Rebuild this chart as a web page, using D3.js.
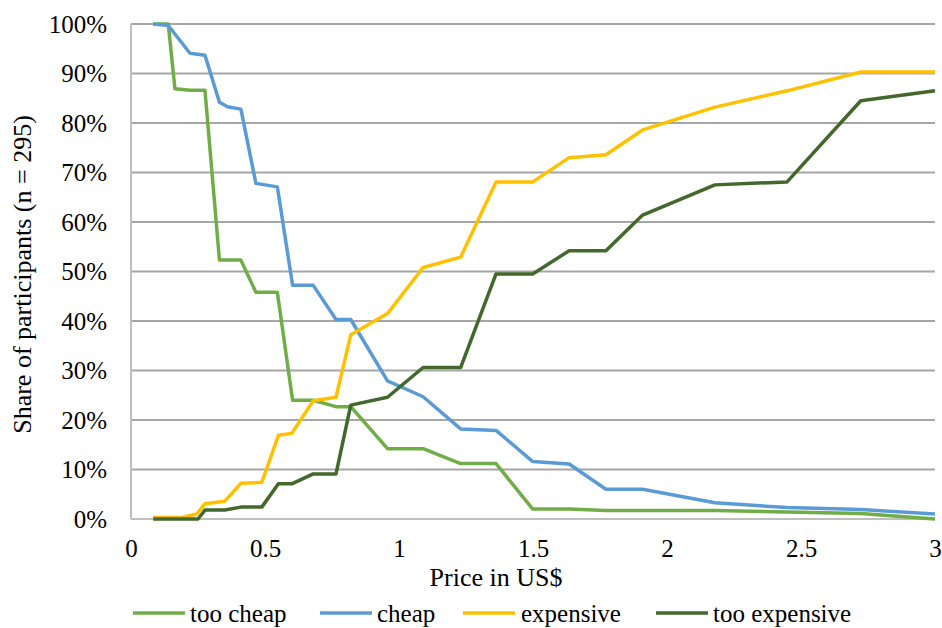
<!DOCTYPE html>
<html>
<head>
<meta charset="utf-8">
<script src="https://cdn.jsdelivr.net/npm/d3@7"></script>
<style>
  html, body { margin: 0; padding: 0; background: #ffffff; }
  svg { display: block; }
  svg text { font-family: 'Liberation Serif', Tinos, 'Times New Roman', Times, 'DejaVu Serif', serif !important; fill: #000; }
</style>
</head>
<body>
<svg id="chart" width="942" height="628"></svg>
<script>
// ---- data ----
const seriesNames = ["too cheap", "cheap", "expensive", "too expensive"];
const seriesColors = ["#70AD47", "#5B9BD5", "#FFC000", "#43682B"];

const tooCheap = [
  [0.083, 100], [0.139, 100], [0.164, 86.9], [0.22, 86.6], [0.276, 86.6],
  [0.33, 52.3], [0.41, 52.3], [0.466, 45.8], [0.546, 45.8], [0.603, 24.0],
  [0.68, 24.0], [0.765, 22.7], [0.82, 22.7], [0.957, 14.2], [1.09, 14.2],
  [1.23, 11.2], [1.362, 11.2], [1.499, 2.0], [1.635, 2.0], [1.772, 1.7],
  [2.179, 1.7], [2.448, 1.4], [2.723, 1.1], [3.0, 0.0]
];
const cheap = [
  [0.083, 100], [0.139, 99.7], [0.22, 94.1], [0.276, 93.7], [0.33, 84.2],
  [0.36, 83.3], [0.41, 82.8], [0.466, 67.8], [0.546, 67.1], [0.603, 47.2],
  [0.68, 47.2], [0.765, 40.3], [0.82, 40.3], [0.957, 27.9], [1.09, 24.7],
  [1.23, 18.2], [1.362, 17.9], [1.499, 11.6], [1.635, 11.1], [1.772, 6.0],
  [1.909, 6.0], [2.179, 3.3], [2.448, 2.3], [2.723, 1.9], [3.0, 1.0]
];
const expensive = [
  [0.083, 0.3], [0.19, 0.3], [0.245, 1.0], [0.276, 3.1], [0.35, 3.6],
  [0.41, 7.2], [0.488, 7.4], [0.55, 16.9], [0.6, 17.3], [0.68, 23.9],
  [0.765, 24.6], [0.82, 37.2], [0.957, 41.5], [1.09, 50.8], [1.23, 52.9],
  [1.362, 68.1], [1.499, 68.1], [1.635, 73.0], [1.772, 73.6], [1.909, 78.6],
  [2.179, 83.2], [2.448, 86.5], [2.723, 90.3], [3.0, 90.3]
];
const tooExpensive = [
  [0.083, 0.0], [0.25, 0.0], [0.276, 1.8], [0.35, 1.8], [0.41, 2.4],
  [0.488, 2.4], [0.55, 7.1], [0.6, 7.1], [0.68, 9.1], [0.765, 9.1],
  [0.82, 23.0], [0.957, 24.6], [1.09, 30.6], [1.23, 30.6], [1.362, 49.5],
  [1.499, 49.5], [1.635, 54.2], [1.772, 54.2], [1.909, 61.4], [2.179, 67.5],
  [2.448, 68.1], [2.723, 84.5], [3.0, 86.5]
];
const seriesData = [tooCheap, cheap, expensive, tooExpensive];

const xTicks = [0, 0.5, 1, 1.5, 2, 2.5, 3];
const xTickLabels = ["0", "0.5", "1", "1.5", "2", "2.5", "3"];
const yTicks = [0, 10, 20, 30, 40, 50, 60, 70, 80, 90, 100];
const yTickLabels = ["0%", "10%", "20%", "30%", "40%", "50%", "60%", "70%", "80%", "90%", "100%"];
const xTitle = "Price in US$";
const yTitle = "Share of participants (n = 295)";

// ---- layout ----
const svg = d3.select("#chart");
const plotLeft = 131, plotRight = 935, plotTop = 24, plotBottom = 519;
const FS = 25;
const FONT = "'Liberation Serif', Tinos, 'Times New Roman', Times, 'DejaVu Serif', serif";

const x = d3.scaleLinear().domain([0, 3]).range([plotLeft, plotRight]);
const y = d3.scaleLinear().domain([0, 100]).range([plotBottom, plotTop]);

// gridlines
svg.append("g")
  .selectAll("line")
  .data(yTicks)
  .join("line")
  .attr("x1", plotLeft).attr("x2", plotRight)
  .attr("y1", d => y(d)).attr("y2", d => y(d))
  .attr("stroke", d => d === 0 ? "#bfbfbf" : "#a6a6a6")
  .attr("stroke-width", 2);

// left axis line
svg.append("line")
  .attr("x1", plotLeft).attr("x2", plotLeft)
  .attr("y1", plotTop).attr("y2", plotBottom)
  .attr("stroke", "#bfbfbf").attr("stroke-width", 2);

// y tick labels via axis
const yAxis = d3.axisLeft(y).tickValues(yTicks)
  .tickFormat((d, i) => yTickLabels[i]).tickSize(0).tickPadding(24);
const gy = svg.append("g").attr("transform", `translate(${plotLeft},0)`).call(yAxis)
  .attr("font-family", FONT).attr("font-size", FS);
gy.select(".domain").remove();
gy.selectAll("text").style("font-family", FONT).style("font-size", FS + "px").attr("fill", "#000");

// x tick labels via axis
const xAxis = d3.axisBottom(x).tickValues(xTicks)
  .tickFormat((d, i) => xTickLabels[i]).tickSize(0).tickPadding(20);
const gx = svg.append("g").attr("transform", `translate(0,${plotBottom})`).call(xAxis)
  .attr("font-family", FONT).attr("font-size", FS);
gx.select(".domain").remove();
gx.selectAll("text").style("font-family", FONT).style("font-size", FS + "px").attr("fill", "#000");

// axis titles
svg.append("text")
  .attr("x", 496).attr("y", 586)
  .attr("text-anchor", "middle")
  .style("font-family", FONT).style("font-size", "26px")
  .text(xTitle);
svg.append("text")
  .attr("transform", `translate(31,${(plotTop + plotBottom) / 2 + 3}) rotate(-90)`)
  .attr("text-anchor", "middle")
  .style("font-family", FONT).style("font-size", "26px")
  .text(yTitle);

// lines
const line = d3.line().x(d => x(d[0])).y(d => y(d[1]));
svg.append("g")
  .selectAll("path")
  .data(seriesData)
  .join("path")
  .attr("d", d => line(d))
  .attr("fill", "none")
  .attr("stroke", (d, i) => seriesColors[i])
  .attr("stroke-width", 3.5)
  .attr("stroke-linejoin", "round");

// legend
const legendItems = [
  { lx: 133, tx: 190 },
  { lx: 320, tx: 377 },
  { lx: 463, tx: 521 },
  { lx: 656, tx: 713 }
];
const lg = svg.append("g");
const items = lg.selectAll("g").data(seriesNames).join("g");
items.append("line")
  .attr("x1", (d, i) => legendItems[i].lx).attr("x2", (d, i) => legendItems[i].lx + 52)
  .attr("y1", 613).attr("y2", 613)
  .attr("stroke", (d, i) => seriesColors[i]).attr("stroke-width", 3.5);
items.append("text")
  .attr("x", (d, i) => legendItems[i].tx).attr("y", 622)
  .style("font-family", FONT).style("font-size", FS + "px")
  .text(d => d);
</script>
</body>
</html>
